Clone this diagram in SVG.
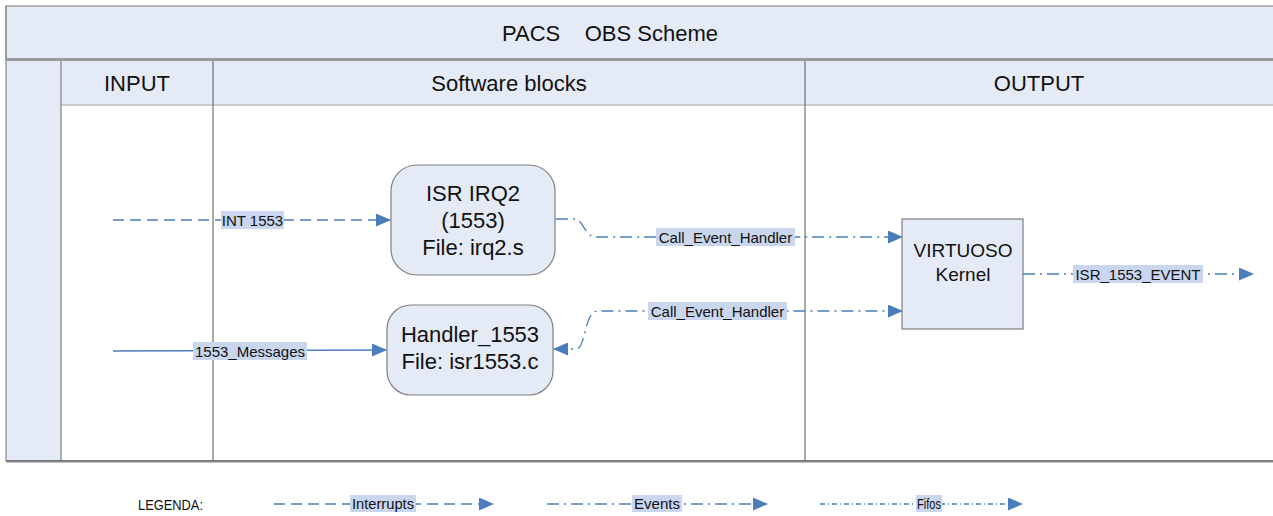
<svg xmlns="http://www.w3.org/2000/svg" width="1273" height="516" viewBox="0 0 1273 516">
<defs>
<marker id="arr" markerUnits="userSpaceOnUse" markerWidth="15" markerHeight="13" refX="14" refY="6.5" orient="auto-start-reverse">
<path d="M0,0 L15,6.5 L0,13 z" fill="#4a7ebb"/>
</marker>
<style>
text{font-family:"Liberation Sans",Arial,sans-serif;fill:#111}
.hd{font-size:22px;text-anchor:middle}
.nd{font-size:22px;text-anchor:middle}
.vk{font-size:19px;text-anchor:middle}
.lb{font-size:15px;text-anchor:middle}
.lg{font-size:14.5px;text-anchor:middle}
.lbg{fill:#c9d6ee}
.c{fill:none;stroke:#4a7ebb;stroke-width:1.3}
.int{stroke-dasharray:11 6}
.evt{stroke-dasharray:12 5 2 5}
.ff{stroke-dasharray:5 3 1 3}
.node{fill:#e5ebf6;stroke:#7f7f7f;stroke-width:1.2}
</style>
</defs>
<rect width="1273" height="516" fill="#fff"/>
<g id="frame">
<rect x="6" y="6" width="1280" height="53" fill="#e5ebf6" stroke="#8a8a8a" stroke-width="1.2"/>
<rect x="6" y="59" width="55" height="402" fill="#e5ebf6"/>
<rect x="61" y="61" width="1225" height="44" fill="#e5ebf6"/>
<line x1="6" y1="59.5" x2="1280" y2="59.5" stroke="#9a9a9a" stroke-width="3"/>
<line x1="61" y1="105" x2="1280" y2="105" stroke="#bcbcbc" stroke-width="1.5"/>
<line x1="6" y1="6" x2="6" y2="461" stroke="#8a8a8a" stroke-width="1.2"/>
<line x1="61" y1="61" x2="61" y2="461" stroke="#808080" stroke-width="1.2"/>
<line x1="213" y1="61" x2="213" y2="461" stroke="#555" stroke-width="1"/>
<line x1="805" y1="61" x2="805" y2="461" stroke="#555" stroke-width="1"/>
<line x1="6" y1="461" x2="1280" y2="461" stroke="#555" stroke-width="1.5"/>
<line x1="6" y1="462.5" x2="1280" y2="462.5" stroke="#c8c8c8" stroke-width="1.2"/>
<text class="hd" x="610" y="41" xml:space="preserve" style="white-space:pre">PACS    OBS Scheme</text>
<text class="hd" x="137" y="91">INPUT</text>
<text class="hd" x="509" y="91">Software blocks</text>
<text class="hd" x="1039" y="91">OUTPUT</text>
</g>
<g id="connectors">
<path class="c int" d="M113,220 H390" marker-end="url(#arr)"/>
<path class="c" d="M113,351 L386,350" marker-end="url(#arr)"/>
<path class="c evt" d="M556,219 H574 C584,219 584,237 596,237 H902" marker-end="url(#arr)"/>
<path class="c evt" d="M554,349 H576 C586,349 584,311 598,311 H902" marker-start="url(#arr)" marker-end="url(#arr)"/>
<path class="c evt" d="M1023,274 H1253" marker-end="url(#arr)"/>
<rect class="lbg" x="221" y="211" width="63" height="18"/>
<text class="lb" x="252.5" y="225.5">INT 1553</text>
<rect class="lbg" x="193" y="342" width="114" height="18"/>
<text class="lb" x="250" y="356.5">1553_Messages</text>
<rect class="lbg" x="656" y="228" width="139" height="18"/>
<text class="lb" x="725.5" y="242.5">Call_Event_Handler</text>
<rect class="lbg" x="648" y="302" width="139" height="18"/>
<text class="lb" x="717.5" y="316.5">Call_Event_Handler</text>
<rect class="lbg" x="1073" y="265" width="130" height="18"/>
<text class="lb" x="1138" y="279.5">ISR_1553_EVENT</text>
</g>
<g id="isr_irq2">
<rect class="node" x="391" y="165" width="164" height="110" rx="26"/>
<text class="nd" x="473" y="201">ISR IRQ2</text>
<text class="nd" x="473" y="228">(1553)</text>
<text class="nd" x="473" y="255">File: irq2.s</text>
</g>
<g id="handler_1553">
<rect class="node" x="387" y="305" width="166" height="90" rx="24"/>
<text class="nd" x="470" y="342">Handler_1553</text>
<text class="nd" x="470" y="369">File: isr1553.c</text>
</g>
<g id="virtuoso">
<rect class="node" x="902" y="219" width="121" height="110"/>
<text class="vk" x="963" y="257">VIRTUOSO</text>
<text class="vk" x="963" y="281">Kernel</text>
</g>
<g id="legend">
<text x="138" y="510" style="font-size:14.5px" textLength="65" lengthAdjust="spacingAndGlyphs">LEGENDA:</text>
<path class="c int" d="M274,504 H493" marker-end="url(#arr)"/>
<rect class="lbg" x="350" y="495" width="66" height="17"/>
<text class="lg" x="383" y="509" textLength="62" lengthAdjust="spacingAndGlyphs">Interrupts</text>
<path class="c evt" d="M547,504 H767" marker-end="url(#arr)"/>
<rect class="lbg" x="632" y="495" width="50" height="17"/>
<text class="lg" x="657" y="509" textLength="46" lengthAdjust="spacingAndGlyphs">Events</text>
<path class="c ff" d="M820,504 H1022" marker-end="url(#arr)"/>
<rect class="lbg" x="916" y="495" width="26" height="17"/>
<text class="lg" x="929" y="509" textLength="24" lengthAdjust="spacingAndGlyphs">Fifos</text>
</g>
</svg>
